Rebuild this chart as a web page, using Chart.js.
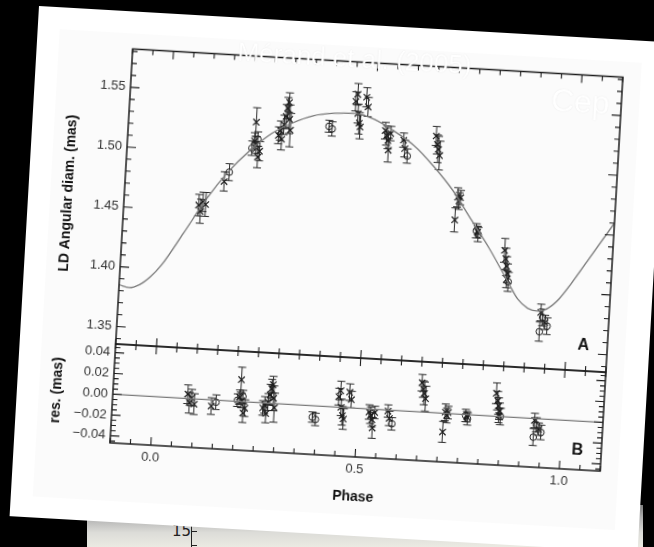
<!DOCTYPE html>
<html>
<head>
<meta charset="utf-8">
<script src="https://cdn.jsdelivr.net/npm/chart.js@4.4.1/dist/chart.umd.min.js"></script>
<style>
  html, body { margin: 0; padding: 0; background: #000; }
  #stage { position: relative; width: 654px; height: 547px; overflow: hidden; background: #000; }
  #under { position: absolute; left: 87px; top: 505px; width: 556px; height: 50px;
    background: linear-gradient(to bottom, #7e7e7e 0%, #b0b0b0 25%, #dcdcd8 55%, #f3f2e8 100%); }
  #under .num { position: absolute; left: 85px; top: 19px; font: 15px "DejaVu Sans"; line-height: 15px; color: #222; }
  #under .ax { position: absolute; left: 104px; top: 17px; width: 1.3px; height: 40px; background: #222; }
  #under .tk { position: absolute; left: 104px; width: 6px; height: 1.2px; background: #222; }
  #paper { position: absolute; left: 39px; top: 6px; width: 629px; height: 511px; background: #fff;
    transform: rotate(3.3deg); transform-origin: 0 0; filter: blur(0.35px); }
  #inner { position: absolute; left: 22px; top: 22px; width: 583px; height: 468px; background: #fbfbfb; }
  #paper canvas { position: absolute; left: 0; top: 0; }
  .tag { position: absolute; font: bold 16px "Liberation Sans"; color: #111; transform: translate(-50%, -50%); }
  .ghost { position: absolute; color: #fff; font-family: "Liberation Sans"; white-space: nowrap;
    transform: translate(-50%, -50%); text-shadow: 0 0 1.2px rgba(0,0,0,0.12); }
</style>
</head>
<body>
<div id="stage">
  <div id="under">
    <div class="num">15</div>
    <div class="ax"></div>
    <div class="tk" style="top:26px"></div>
    <div class="tk" style="top:40px"></div>
  </div>
  <div id="paper">
    <div id="inner"></div>
    <canvas id="cA" width="629" height="511"></canvas>
    <canvas id="cB" width="629" height="511"></canvas>
    <div class="tag" style="left:563px;top:307px">A</div>
    <div class="tag" style="left:563px;top:412px">B</div>
    <div class="ghost" style="left:318px;top:34px;font-size:26px">Mérand et al. (2005)</div>
    <div class="ghost" style="left:546px;top:64px;font-size:32px">Cep</div>
  </div>
</div>
<script>
// Pulsation model: limb-darkened angular diameter (mas) versus phase
const modelPhase = [-0.10, -0.075, -0.05, -0.025, 0.00, 0.05, 0.10, 0.15, 0.20, 0.25, 0.30, 0.35, 0.40, 0.45,
  0.50, 0.55, 0.60, 0.65, 0.70, 0.75, 0.80, 0.85, 0.875, 0.90, 0.925, 0.95, 0.975, 1.00, 1.05, 1.10];
const modelDiam = [1.385, 1.383, 1.386, 1.393, 1.403, 1.431, 1.460, 1.484, 1.503, 1.518, 1.528, 1.535, 1.538, 1.539,
  1.535, 1.526, 1.515, 1.499, 1.480, 1.456, 1.432, 1.405, 1.392, 1.385, 1.383, 1.386, 1.394, 1.406, 1.433, 1.460];

// Interferometric measurements
const obsPhase = [0.083, 0.088, 0.093, 0.100, 0.142, 0.153, 0.205, 0.212, 0.215, 0.218, 0.220, 0.224, 0.210,
  0.268, 0.272, 0.276, 0.280, 0.284, 0.287, 0.290, 0.293, 0.296, 0.390, 0.398,
  0.452, 0.456, 0.459, 0.463, 0.478, 0.483, 0.466, 0.528, 0.532, 0.536, 0.538, 0.542,
  0.574, 0.578, 0.585, 0.653, 0.657, 0.660, 0.664, 0.710, 0.714, 0.718, 0.721,
  0.764, 0.769, 0.767, 0.836, 0.840, 0.843, 0.846, 0.849, 0.845, 0.933, 0.938, 0.944, 0.950, 0.932];
const obsDiam = [1.455, 1.450, 1.458, 1.456, 1.476, 1.484, 1.505, 1.527, 1.508, 1.513, 1.498, 1.503, 1.511,
  1.517, 1.521, 1.514, 1.526, 1.533, 1.540, 1.545, 1.531, 1.522, 1.527, 1.525,
  1.549, 1.555, 1.539, 1.531, 1.553, 1.545, 1.528, 1.526, 1.522, 1.518, 1.510, 1.524,
  1.519, 1.512, 1.506, 1.524, 1.517, 1.513, 1.508, 1.455, 1.474, 1.471, 1.474,
  1.447, 1.444, 1.446, 1.432, 1.425, 1.419, 1.413, 1.406, 1.408, 1.382, 1.378, 1.374, 1.371, 1.366];
const obsErr = [0.009, 0.010, 0.008, 0.010, 0.008, 0.007, 0.006, 0.012, 0.007, 0.006, 0.009, 0.008, 0.007,
  0.007, 0.008, 0.009, 0.008, 0.010, 0.009, 0.008, 0.012, 0.014, 0.005, 0.006,
  0.008, 0.009, 0.008, 0.009, 0.008, 0.008, 0.010, 0.007, 0.008, 0.007, 0.010, 0.006,
  0.006, 0.007, 0.006, 0.008, 0.008, 0.011, 0.012, 0.010, 0.008, 0.007, 0.006,
  0.006, 0.006, 0.005, 0.010, 0.009, 0.008, 0.008, 0.008, 0.007, 0.007, 0.007, 0.006, 0.007, 0.008];
const obsMark = ['x','x','x','x', 'x','o', 'o','x','x','o','x','x','x',
  'x','x','x','x','x','x','x','x','x', 'o','o',
  'x','x','x','x','x','x','x', 'x','x','x','x','x',
  'x','x','o', 'x','x','x','x', 'x','x','x','x',
  'o','o','x', 'x','x','x','x','o','x', 'x','o','x','o','o'];
// Residuals (observed minus model), mas
const obsRes = [0.004, -0.004, 0.001, -0.005, -0.006, -0.002, 0.001, 0.021, 0.001, 0.005, -0.011, -0.006, 0.004,
  -0.005, -0.002, -0.010, 0.001, 0.008, 0.014, 0.018, 0.005, -0.004, -0.011, -0.013,
  0.010, 0.016, 0.000, -0.008, 0.015, 0.008, -0.011, -0.003, -0.006, -0.010, -0.018, -0.003,
  -0.001, -0.008, -0.013, 0.028, 0.022, 0.018, 0.013, -0.018, 0.001, -0.002, 0.001,
  -0.001, -0.004, -0.002, 0.022, 0.015, 0.010, 0.005, 0.000, 0.001, -0.002, -0.006, -0.010, -0.013, -0.018];

const diamTicks = [1.35, 1.40, 1.45, 1.50, 1.55];
const resTicks = [-0.04, -0.02, 0.00, 0.02, 0.04];
const phaseTicks = [0.0, 0.5, 1.0];

const FONT = 'Liberation Sans';
const INK = '#1c1c1c';

function stepValues(min, max, step) {
  const out = [];
  for (let k = Math.ceil(min / step - 1e-9); k * step <= max + 1e-9; k++) out.push(k * step);
  return out;
}
function isMultiple(v, step) { return Math.abs(v / step - Math.round(v / step)) < 1e-6; }
function fmt(v, d) { return (v < -1e-9 ? '\u2212' : '') + Math.abs(v).toFixed(d); }

// Closed frame with inward major/minor ticks on all four sides
const frameTicks = {
  id: 'frameTicks',
  afterDatasetsDraw(chart, args, o) {
    const { ctx, chartArea: a, scales: { x, y } } = chart;
    ctx.save();
    ctx.strokeStyle = INK;
    ctx.lineWidth = 1.1;
    ctx.beginPath();
    for (const v of stepValues(x.min, x.max, o.xMinor)) {
      const px = x.getPixelForValue(v);
      const len = isMultiple(v, o.xMajor) ? 8 : 5;
      ctx.moveTo(px, a.top); ctx.lineTo(px, a.top + len);
      ctx.moveTo(px, a.bottom); ctx.lineTo(px, a.bottom - len);
    }
    for (const v of stepValues(y.min, y.max, o.yMinor)) {
      const py = y.getPixelForValue(v);
      const len = isMultiple(v, o.yMajor) ? 9 : 5;
      ctx.moveTo(a.left, py); ctx.lineTo(a.left + len, py);
      ctx.moveTo(a.right, py); ctx.lineTo(a.right - len, py);
    }
    ctx.stroke();
    ctx.lineWidth = 1.5;
    ctx.strokeRect(a.left, a.top, a.right - a.left, a.bottom - a.top);
    ctx.restore();
  }
};

// Vertical error bars with caps for datasets flagged errorBars
const errorBars = {
  id: 'errorBars',
  beforeDatasetsDraw(chart) {
    const { ctx, chartArea: a, scales: { x, y } } = chart;
    ctx.save();
    ctx.beginPath();
    ctx.rect(a.left, a.top, a.right - a.left, a.bottom - a.top);
    ctx.clip();
    ctx.strokeStyle = '#2a2a2a';
    ctx.lineWidth = 1;
    ctx.beginPath();
    chart.data.datasets.forEach(ds => {
      if (!ds.errorBars) return;
      ds.data.forEach(p => {
        const px = x.getPixelForValue(p.x);
        const y1 = y.getPixelForValue(p.y - p.e);
        const y2 = y.getPixelForValue(p.y + p.e);
        ctx.moveTo(px, y1); ctx.lineTo(px, y2);
        ctx.moveTo(px - 4, y1); ctx.lineTo(px + 4, y1);
        ctx.moveTo(px - 4, y2); ctx.lineTo(px + 4, y2);
      });
    });
    ctx.stroke();
    ctx.restore();
  }
};

function markerSets(values) {
  const pts = obsPhase.map((p, i) => ({ x: p, y: values[i], e: obsErr[i], m: obsMark[i] }));
  return [
    { data: pts.filter(p => p.m === 'x'), errorBars: true, pointStyle: 'crossRot', pointRadius: 4.5,
      borderColor: INK, borderWidth: 1.2, backgroundColor: 'transparent', showLine: false },
    { data: pts.filter(p => p.m === 'o'), errorBars: true, pointStyle: 'circle', pointRadius: 3.3,
      borderColor: INK, borderWidth: 1, backgroundColor: 'transparent', showLine: false }
  ];
}

const tickFont = { family: FONT, size: 13 };
const titleFont = { family: FONT, size: 14, weight: 'bold' };
const common = {
  responsive: false,
  animation: false,
  events: [],
  plugins: { legend: { display: false }, tooltip: { enabled: false } }
};

// Panel A: angular diameter curve
new Chart(document.getElementById('cA'), {
  type: 'scatter',
  data: {
    datasets: [
      { data: modelPhase.map((p, i) => ({ x: p, y: modelDiam[i] })), showLine: true, pointRadius: 0,
        borderColor: '#7a7a7a', borderWidth: 1.3, cubicInterpolationMode: 'monotone' },
      ...markerSets(obsDiam)
    ]
  },
  options: {
    ...common,
    layout: { padding: { left: 0, right: 42, top: 37.5, bottom: 178 } },
    plugins: { ...common.plugins, frameTicks: { xMinor: 0.05, xMajor: 0.5, yMinor: 0.01, yMajor: 0.05 } },
    scales: {
      x: { type: 'linear', min: -0.1, max: 1.1, display: false },
      y: {
        type: 'linear', min: 1.3354, max: 1.5820,
        afterFit(s) { s.width = 96; },
        afterBuildTicks(s) { s.ticks = diamTicks.map(v => ({ value: v })); },
        ticks: { callback: v => fmt(v, 2), padding: 5, color: '#333', font: tickFont },
        grid: { display: false, drawTicks: false }, border: { display: false },
        title: { display: true, text: 'LD Angular diam. (mas)', color: '#111', font: titleFont, padding: { top: 31.6 } }
      }
    }
  },
  plugins: [errorBars, frameTicks]
});

// Panel B: residuals
new Chart(document.getElementById('cB'), {
  type: 'scatter',
  data: {
    datasets: [
      { data: [{ x: -0.1, y: 0 }, { x: 1.1, y: 0 }], showLine: true, pointRadius: 0,
        borderColor: '#7a7a7a', borderWidth: 1.3 },
      ...markerSets(obsRes)
    ]
  },
  options: {
    ...common,
    layout: { padding: { left: 0, right: 42, top: 333, bottom: 0 } },
    plugins: { ...common.plugins, frameTicks: { xMinor: 0.05, xMajor: 0.5, yMinor: 0.005, yMajor: 0.02 } },
    scales: {
      x: {
        type: 'linear', min: -0.1, max: 1.1,
        afterFit(s) { s.height = 79; },
        afterBuildTicks(s) { s.ticks = phaseTicks.map(v => ({ value: v })); },
        ticks: { callback: v => fmt(v, 1), padding: 4.2, maxRotation: 0, autoSkip: false, color: '#333', font: tickFont },
        grid: { display: false, drawTicks: false }, border: { display: false },
        title: { display: true, text: 'Phase', color: '#111', font: titleFont, padding: { bottom: 30.6 } }
      },
      y: {
        type: 'linear', min: -0.0468, max: 0.0483,
        afterFit(s) { s.width = 96; },
        afterBuildTicks(s) { s.ticks = resTicks.map(v => ({ value: v })); },
        ticks: { callback: v => fmt(v, 2), padding: 5, color: '#333', font: tickFont },
        grid: { display: false, drawTicks: false }, border: { display: false },
        title: { display: true, text: 'res. (mas)', color: '#111', font: titleFont, padding: { top: 31.6 } }
      }
    }
  },
  plugins: [errorBars, frameTicks]
});
</script>
</body>
</html>
